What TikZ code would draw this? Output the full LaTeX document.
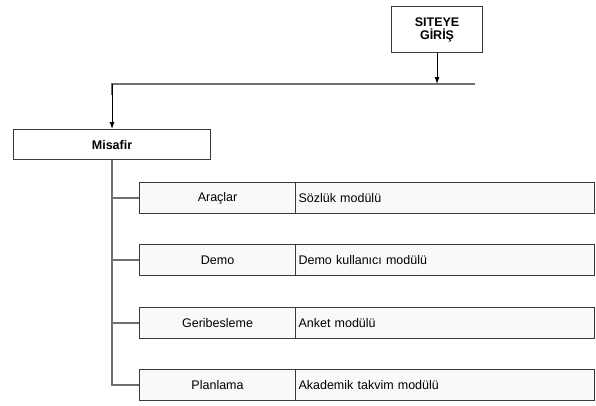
\documentclass[tikz,border=0pt]{standalone}
\usepackage{fontspec}
\setmainfont{Liberation Sans}
\usetikzlibrary{arrows.meta}
\definecolor{boxfill}{HTML}{FBF8F9}
\definecolor{boxline}{HTML}{3A3A3A}
\definecolor{busline}{HTML}{707070}
\tikzset{
  plainbox/.style={draw=boxline, line width=1.1pt, fill=white, inner sep=0pt, anchor=north west},
  cellbox/.style={draw=boxline, line width=1.1pt, fill=boxfill, inner sep=0pt, anchor=north west,
    minimum height=31pt, font=\fontsize{12.5}{14}\selectfont},
  bus/.style={draw=busline, line width=1.6pt},
  feed/.style={draw=black, line width=0.9pt, -{Latex[length=7pt,width=5pt]}},
}
\begin{document}
\begin{tikzpicture}[x=1pt,y=-1pt]
  \useasboundingbox (0,0) rectangle (596,405);

  % entry box
  \node[plainbox, minimum width=91pt, minimum height=46pt,
        font=\bfseries\fontsize{12.5}{13}\selectfont, align=center]
       (site) at (391,6) {SITEYE\\GİRİŞ};

  % guest box
  \node[plainbox, minimum width=197pt, minimum height=30pt,
        font=\bfseries\fontsize{12.5}{13}\selectfont]
       (guest) at (13,129) {Misafir};

  % module rows: name cell and description cell
  \node[cellbox, minimum width=156pt] (r1a) at (139,182) {Araçlar};
  \node[cellbox, minimum width=299pt, text width=293pt, align=left] (r1b) at (295,182) {Sözlük modülü};
  \node[cellbox, minimum width=156pt] (r2a) at (139,244) {Demo};
  \node[cellbox, minimum width=299pt, text width=293pt, align=left] (r2b) at (295,244) {Demo kullanıcı modülü};
  \node[cellbox, minimum width=156pt] (r3a) at (139,307) {Geribesleme};
  \node[cellbox, minimum width=299pt, text width=293pt, align=left] (r3b) at (295,307) {Anket modülü};
  \node[cellbox, minimum width=156pt] (r4a) at (139,369) {Planlama};
  \node[cellbox, minimum width=299pt, text width=293pt, align=left] (r4b) at (295,369) {Akademik takvim modülü};

  % horizontal bus
  \coordinate (busL) at (guest.north |- 0,84);
  \coordinate (busR) at (475,84);
  \draw[bus] (busL |- 0,95) -- (busL) -- (busR);

  % arrows
  \draw[feed] (site.south) -- (site.south |- busR);
  \draw[feed] (busL) -- (guest.north);

  % trunk and branches
  \draw[bus] (guest.south) -- (guest.south |- r4a.west) -- (r4a.west);
  \draw[bus] (guest.south |- r1a.west) -- (r1a.west);
  \draw[bus] (guest.south |- r2a.west) -- (r2a.west);
  \draw[bus] (guest.south |- r3a.west) -- (r3a.west);
\end{tikzpicture}
\end{document}
